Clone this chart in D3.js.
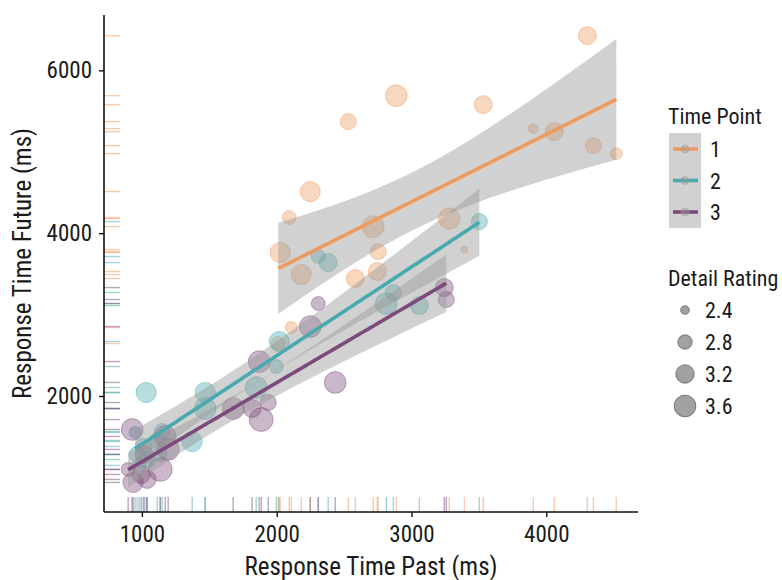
<!DOCTYPE html>
<html>
<head>
<meta charset="utf-8">
<script src="https://cdn.jsdelivr.net/npm/d3@7"></script>
<style>
  body { margin: 0; background: #fff; }
  svg text { font-family: "Liberation Sans Narrow", "Arial Narrow", "Roboto Condensed", "DejaVu Sans Condensed", sans-serif; fill: #1a1a1a; }
</style>
</head>
<body>
<svg id="chart" width="782" height="580"></svg>
<script>
// time point 1
const past1 = [4304, 2887, 3532, 2531, 3903, 4059, 4349, 4519, 2249, 2093, 3280, 2716, 2026, 3392, 2753, 2182, 2746, 2583, 2108, 2011];
const future1 = [6426, 5689, 5579, 5370, 5284, 5247, 5075, 4977, 4511, 4192, 4179, 4081, 3762, 3799, 3774, 3492, 3529, 3443, 2841, 2645];
const detail1 = [3.15, 3.6, 3.15, 2.95, 2.45, 3.15, 2.95, 2.6, 3.4, 2.75, 3.55, 3.6, 3.4, 2.3, 2.95, 3.4, 3.15, 3.15, 2.6, 2.75];
// time point 2
const past2 = [1032, 1470, 1470, 1373, 1151, 950, 1848, 1997, 2019, 2308, 2382, 3503, 2813, 2865, 3058, 965, 980, 1010, 1039, 1114, 1136];
const future2 = [2043, 2043, 1846, 1441, 1564, 1552, 2104, 2362, 2669, 3713, 3639, 4142, 3136, 3271, 3111, 1282, 1147, 1380, 1220, 1454, 1282];
const detail2 = [3.4, 3.4, 3.6, 3.4, 2.95, 2.6, 3.6, 2.75, 3.4, 2.75, 3.15, 2.95, 3.6, 2.95, 3.15, 2.95, 2.75, 2.95, 2.95, 2.95, 2.75];
// time point 3
const past3 = [2308, 2249, 1870, 2434, 1677, 1818, 1937, 1885, 928, 1173, 1195, 898, 1136, 935, 3243, 3258, 1039, 1017, 995];
const future3 = [3136, 2853, 2423, 2166, 1846, 1846, 1920, 1711, 1589, 1503, 1343, 1098, 1098, 938, 3332, 3185, 975, 1282, 1036];
const detail3 = [2.75, 3.6, 3.6, 3.6, 3.6, 3.15, 2.95, 3.9, 3.6, 3.6, 3.6, 2.75, 3.9, 3.4, 3.15, 2.95, 3.15, 3.15, 3.15];

const timePoints = ["1", "2", "3"];
const colors = ["#EE9A5E", "#48AAAE", "#7D4B7B"];
const xTicks = [1000, 2000, 3000, 4000];
const yTicks = [2000, 4000, 6000];
const sizeBreaks = [2.4, 2.8, 3.2, 3.6];

const groups = [
  {past: past1, future: future1, detail: detail1},
  {past: past2, future: future2, detail: detail2},
  {past: past3, future: future3, detail: detail3}
].map((g, i) => ({
  key: timePoints[i],
  color: colors[i],
  pts: g.past.map((p, j) => ({x: p, y: g.future[j], d: g.detail[j]}))
}));

const svg = d3.select("#chart");
const pLeft = 104, pRight = 638, pTop = 15, pBottom = 512;
const x = d3.scaleLinear().domain([719, 4680]).range([pLeft, pRight]);
const y = d3.scaleLinear().domain([575, 6680]).range([pBottom, pTop]);
const area = d3.scaleLinear().domain([2.4, 3.6]).range([19, 118]);
const rad = v => Math.sqrt(Math.max(6, area(v)));

// rugs
const rug = svg.append("g");
groups.forEach(g => {
  g.pts.forEach(p => {
    rug.append("line").attr("x1", x(p.x)).attr("x2", x(p.x))
      .attr("y1", pBottom).attr("y2", pBottom - 15)
      .attr("stroke", g.color).attr("stroke-opacity", 0.5).attr("stroke-width", 1.4);
    rug.append("line").attr("y1", y(p.y)).attr("y2", y(p.y))
      .attr("x1", pLeft).attr("x2", pLeft + 16)
      .attr("stroke", g.color).attr("stroke-opacity", 0.5).attr("stroke-width", 1.4);
  });
});

// points
groups.forEach(g => {
  svg.append("g").selectAll("circle").data(g.pts).join("circle")
    .attr("cx", d => x(d.x)).attr("cy", d => y(d.y)).attr("r", d => rad(d.d))
    .attr("fill", g.color).attr("fill-opacity", 0.4)
    .attr("stroke", g.color).attr("stroke-opacity", 0.45).attr("stroke-width", 1);
});

// t quantile (0.975), Cornish-Fisher expansion
function tq(df) {
  const z = 1.959964;
  const g1 = (z ** 3 + z) / 4;
  const g2 = (5 * z ** 5 + 16 * z ** 3 + 3 * z) / 96;
  const g3 = (3 * z ** 7 + 19 * z ** 5 + 17 * z ** 3 - 15 * z) / 384;
  return z + g1 / df + g2 / df ** 2 + g3 / df ** 3;
}

// linear fits with 95% band
groups.forEach(g => {
  const n = g.pts.length;
  const mx = d3.mean(g.pts, d => d.x), my = d3.mean(g.pts, d => d.y);
  const sxx = d3.sum(g.pts, d => (d.x - mx) ** 2);
  const sxy = d3.sum(g.pts, d => (d.x - mx) * (d.y - my));
  const b = sxy / sxx, a = my - b * mx;
  const s = Math.sqrt(d3.sum(g.pts, d => (d.y - a - b * d.x) ** 2) / (n - 2));
  const t = tq(n - 2);
  const [x0, x1] = d3.extent(g.pts, d => d.x);
  const band = d3.range(80).map(i => {
    const xv = x0 + (x1 - x0) * i / 79;
    const fit = a + b * xv;
    const se = s * Math.sqrt(1 / n + (xv - mx) ** 2 / sxx);
    return {x: xv, fit, lo: fit - t * se, hi: fit + t * se};
  });
  svg.append("path").datum(band)
    .attr("d", d3.area().x(d => x(d.x)).y0(d => y(d.lo)).y1(d => y(d.hi)))
    .attr("fill", "#999").attr("fill-opacity", 0.45);
  svg.append("path").datum(band)
    .attr("d", d3.line().x(d => x(d.x)).y(d => y(d.fit)))
    .attr("fill", "none").attr("stroke", g.color).attr("stroke-width", 3.6);
});

// axes
const xAxis = svg.append("g").attr("transform", `translate(0,${pBottom})`)
  .call(d3.axisBottom(x).tickValues(xTicks).tickFormat(d3.format("d"))
    .tickSize(5).tickPadding(9).tickSizeOuter(0));
const yAxis = svg.append("g").attr("transform", `translate(${pLeft},0)`)
  .call(d3.axisLeft(y).tickValues(yTicks).tickFormat(d3.format("d"))
    .tickSize(5).tickPadding(7).tickSizeOuter(0));
[xAxis, yAxis].forEach(ax => {
  ax.select(".domain").remove();
  ax.selectAll("line").attr("stroke", "#111").attr("stroke-width", 1.4);
  ax.selectAll("text").attr("font-size", 23).attr("fill", "#1a1a1a");
});
svg.append("line").attr("x1", pLeft).attr("x2", pRight).attr("y1", pBottom).attr("y2", pBottom)
  .attr("stroke", "#111").attr("stroke-width", 1.6);
svg.append("line").attr("x1", pLeft).attr("x2", pLeft).attr("y1", pTop).attr("y2", pBottom)
  .attr("stroke", "#111").attr("stroke-width", 1.6);

svg.append("text").attr("x", (pLeft + pRight) / 2).attr("y", 575)
  .attr("text-anchor", "middle").attr("font-size", 25).text("Response Time Past (ms)");
svg.append("text").attr("transform", `translate(31,${(pTop + pBottom) / 2}) rotate(-90)`)
  .attr("text-anchor", "middle").attr("font-size", 25).text("Response Time Future (ms)");

// legend: time point
const lg = svg.append("g");
lg.append("text").attr("x", 668).attr("y", 124).attr("font-size", 22).text("Time Point");
lg.append("rect").attr("x", 669).attr("y", 133).attr("width", 32).attr("height", 95)
  .attr("fill", "#999").attr("fill-opacity", 0.45);
timePoints.forEach((k, i) => {
  const cy = 149 + i * 31.5;
  lg.append("line").attr("x1", 673).attr("x2", 698).attr("y1", cy).attr("y2", cy)
    .attr("stroke", colors[i]).attr("stroke-width", 3.6);
  lg.append("circle").attr("cx", 685).attr("cy", cy).attr("r", 4)
    .attr("fill", "#999").attr("fill-opacity", 0.4).attr("stroke", "#999").attr("stroke-opacity", 0.4);
  lg.append("text").attr("x", 710).attr("y", cy + 8).attr("font-size", 22).text(k);
});

// legend: detail rating
lg.append("text").attr("x", 668).attr("y", 286).attr("font-size", 22).text("Detail Rating");
sizeBreaks.forEach((v, i) => {
  const cy = 310 + i * 32;
  lg.append("circle").attr("cx", 685).attr("cy", cy).attr("r", rad(v))
    .attr("fill", "#444").attr("fill-opacity", 0.5).attr("stroke", "#444").attr("stroke-opacity", 0.6);
  lg.append("text").attr("x", 705).attr("y", cy + 8).attr("font-size", 22).text(v.toFixed(1));
});
</script>
</body>
</html>
